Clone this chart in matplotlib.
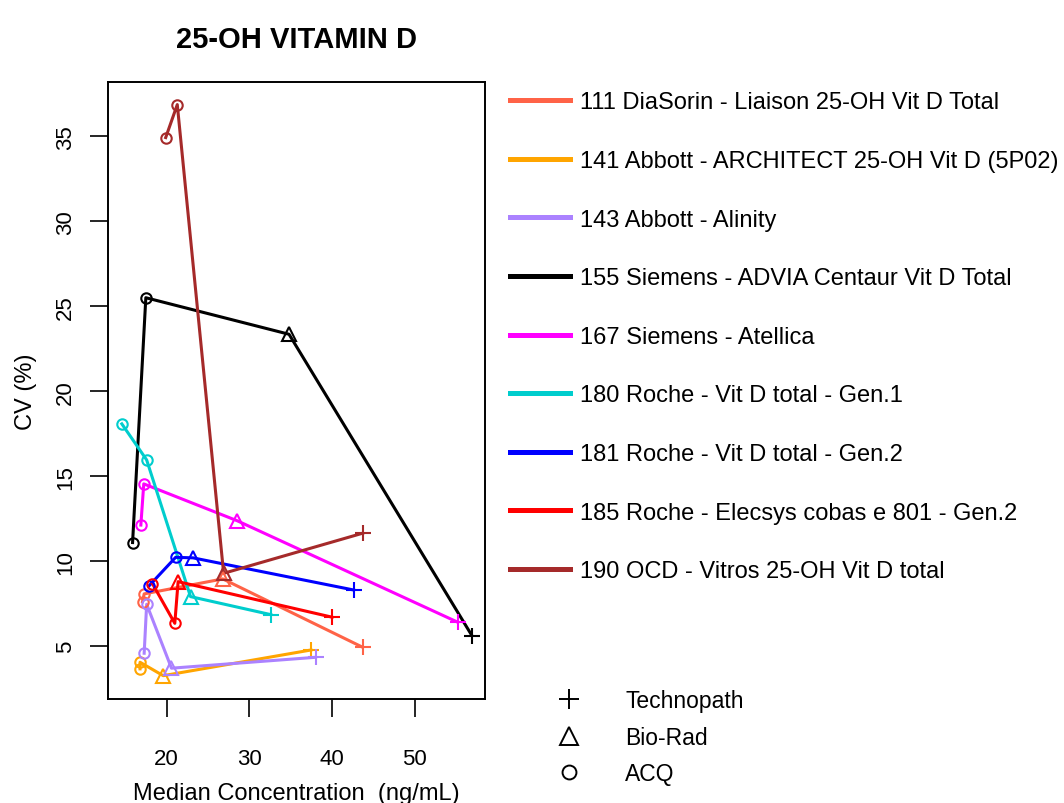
import matplotlib
matplotlib.use("Agg")
import matplotlib.pyplot as plt
from matplotlib.lines import Line2D

plt.rcParams.update({
    'font.family': ['Liberation Sans', 'DejaVu Sans'],
    'axes.linewidth': 1.4,
})

# --- data: (median concentration, CV) per kit, points in drawing order ---
labels = [
    '111 DiaSorin - Liaison 25-OH Vit D Total',
    '141 Abbott - ARCHITECT 25-OH Vit D (5P02)',
    '143 Abbott - Alinity',
    '155 Siemens - ADVIA Centaur Vit D Total',
    '167 Siemens - Atellica',
    '180 Roche - Vit D total - Gen.1',
    '181 Roche - Vit D total - Gen.2',
    '185 Roche - Elecsys cobas e 801 - Gen.2',
    '190 OCD - Vitros 25-OH Vit D total',
]
colors = ['#FF6347', '#FFA500', '#AB82FF', '#000000', '#FF00FF',
          '#00CDCD', '#0000FF', '#FF0000', '#A52A2A']

# provider of each point: ACQ, ACQ, Bio-Rad, Technopath
providers = ['ACQ', 'ACQ', 'Bio-Rad', 'Technopath']

conc = [
    [17.1, 17.3, 26.8, 43.7],
    [16.8, 16.8, 19.6, 37.45],
    [17.3, 17.6, 20.6, 38.0],
    [15.9, 17.5, 34.8, 56.9],
    [16.9, 17.25, 28.5, 55.2],
    [14.6, 17.6, 22.9, 32.6],
    [17.9, 21.1, 23.2, 42.6],
    [18.3, 21.0, 21.4, 40.0],
    [19.9, 21.3, 26.9, 43.7],
]
cv = [
    [7.62, 8.08, 8.96, 4.94],
    [3.67, 4.06, 3.27, 4.78],
    [4.59, 7.47, 3.71, 4.35],
    [11.1, 25.5, 23.35, 5.62],
    [12.13, 14.55, 12.39, 6.41],
    [18.08, 15.96, 7.92, 6.86],
    [8.56, 10.23, 10.2, 8.31],
    [8.68, 6.35, 8.8, 6.71],
    [34.92, 36.86, 9.29, 11.65],
]

marker_of = {'Technopath': '+', 'Bio-Rad': '^', 'ACQ': 'o'}
msize_of = {'Technopath': 11, 'Bio-Rad': 10, 'ACQ': 7.5}

fig = plt.figure(figsize=(10.64, 8.04), dpi=100)
ax = fig.add_axes([0.1015, 0.1294, 0.3543, 0.7674])

for xs, ys, col in zip(conc, cv, colors):
    ax.plot(xs, ys, color=col, lw=2.2, zorder=2)
    for x, y, p in zip(xs, ys, providers):
        ax.plot(x, y, linestyle='none', marker=marker_of[p], ms=msize_of[p],
                mfc='none', mec=col, mew=1.5, zorder=3)

ax.set_xlim(12.93, 58.47)
ax.set_ylim(1.9, 38.19)
ax.set_xticks([20, 30, 40, 50])
ax.set_yticks([5, 10, 15, 20, 25, 30, 35])
ax.tick_params(axis='both', length=13, width=1.2, labelsize=16)
ax.tick_params(axis='x', pad=22)
ax.tick_params(axis='y', pad=10)
for t in ax.get_yticklabels():
    t.set_rotation(90)
    t.set_va('center')

ax.set_xlabel('Median Concentration  (ng/mL)', fontsize=17, labelpad=10)
ax.set_ylabel('CV (%)', fontsize=17, labelpad=13)
ax.set_title('25-OH VITAMIN D', fontsize=21, fontweight='bold', pad=25)

# kit legend
kit_handles = [Line2D([], [], color=c, lw=3.6) for c in colors]
leg1 = fig.legend(kit_handles, labels, loc='upper left',
                  bbox_to_anchor=(0.479, 0.885), frameon=False,
                  fontsize=17, handlelength=2.55, handletextpad=0.45,
                  labelspacing=1.55, borderpad=0, borderaxespad=0)

# provider legend
prov_order = ['Technopath', 'Bio-Rad', 'ACQ']
prov_ms = {'Technopath': 14.5, 'Bio-Rad': 13, 'ACQ': 10}
prov_handles = [Line2D([], [], linestyle='none', marker=marker_of[p],
                       ms=prov_ms[p], mfc='none', mec='black', mew=1.4)
                for p in prov_order]
leg2 = fig.legend(prov_handles, prov_order, loc='upper left',
                  bbox_to_anchor=(0.513, 0.142), frameon=False,
                  fontsize=16.5, handlelength=2.0, handletextpad=1.46,
                  labelspacing=0.6, borderpad=0, borderaxespad=0)

fig.savefig('out.png', dpi=100)
